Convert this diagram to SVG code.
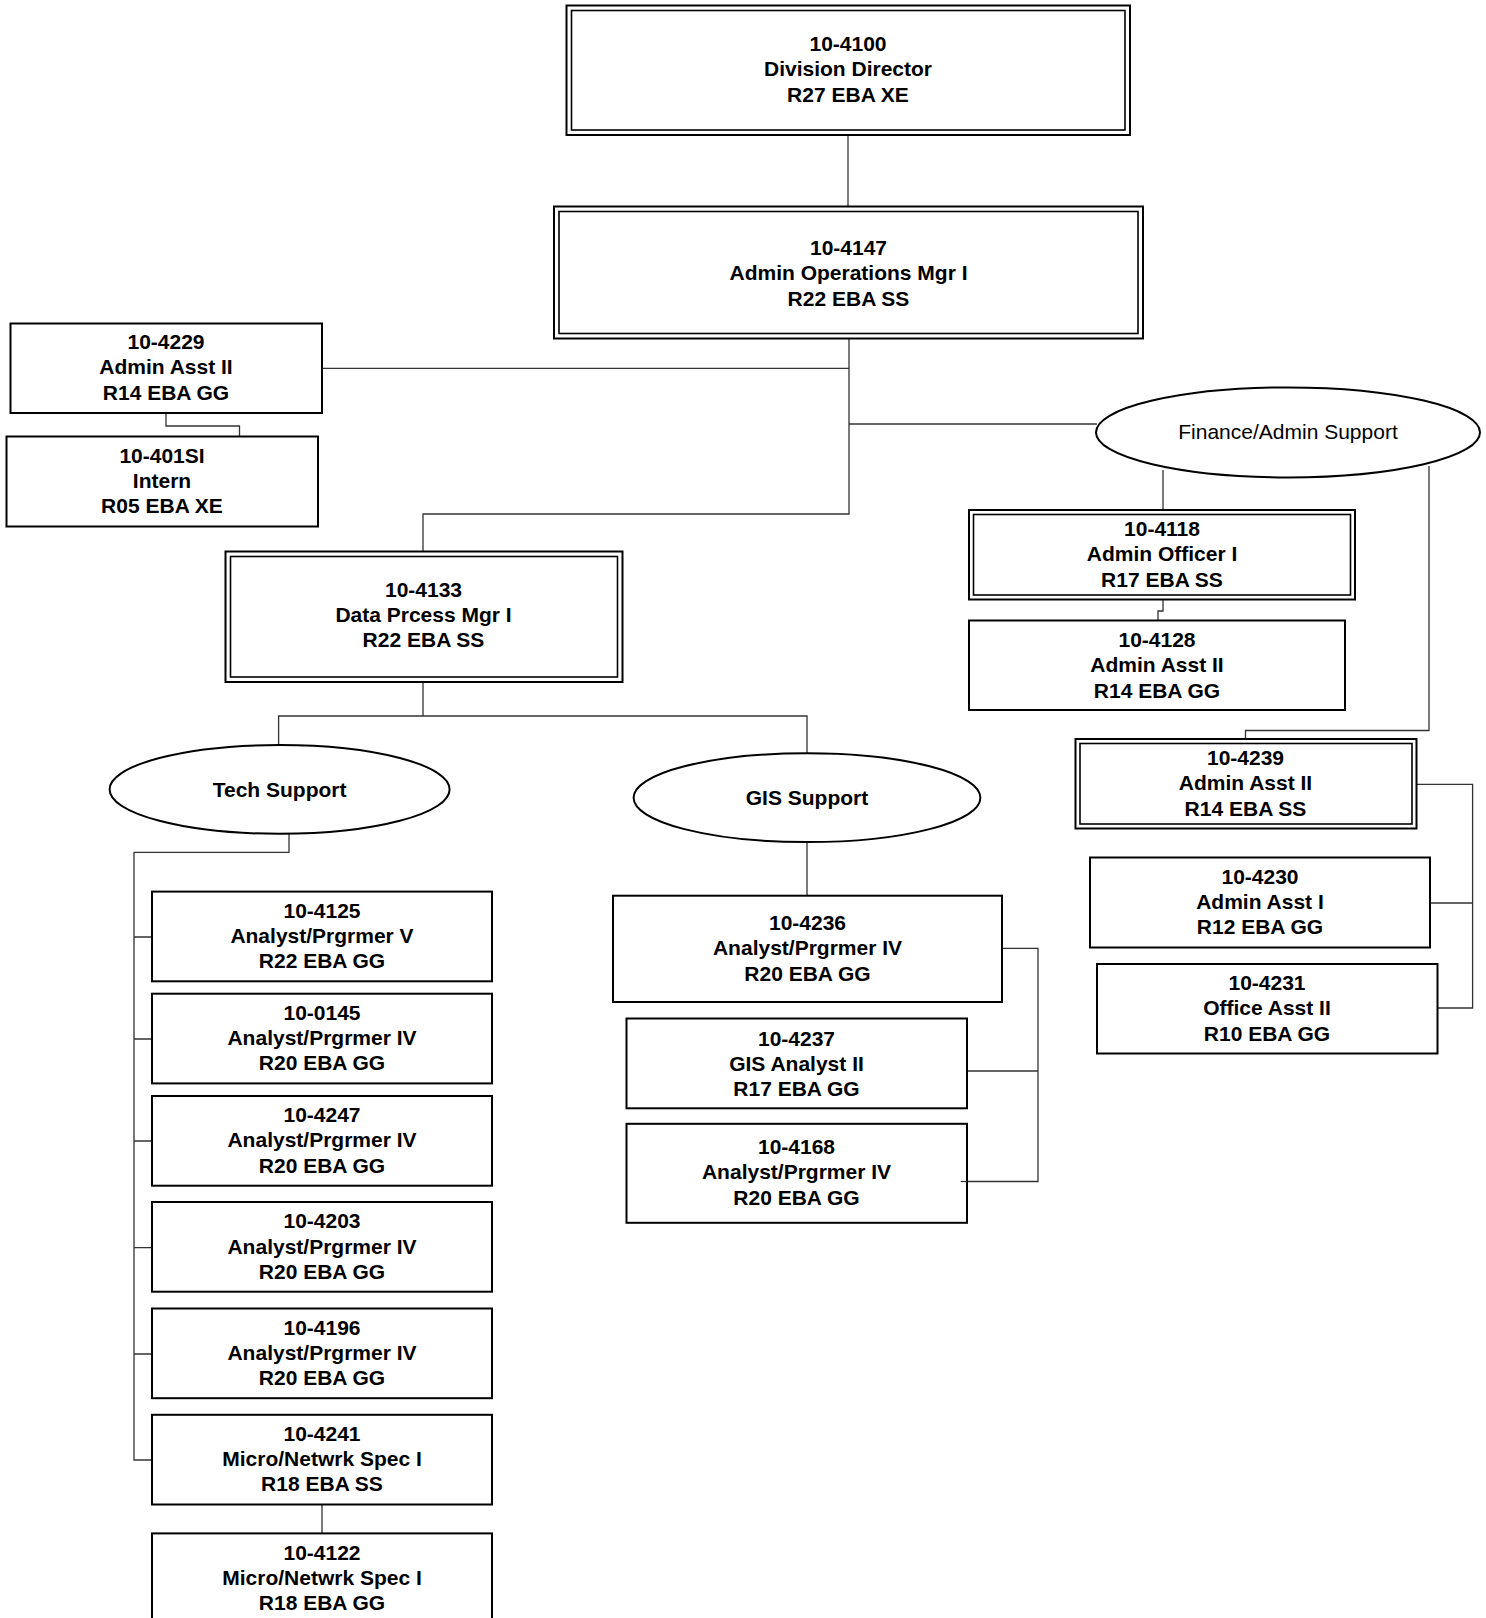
<svg xmlns="http://www.w3.org/2000/svg" width="1486" height="1618" viewBox="0 0 1486 1618">
<style>
.bx{fill:#fff;stroke:#000;stroke-width:2}
.in{fill:none;stroke:#000;stroke-width:1.6}
.el{fill:#fff;stroke:#000;stroke-width:2}
.t{font-family:"Liberation Sans",Arial,sans-serif;font-size:21px;font-weight:bold;text-anchor:middle;fill:#000}
.n{font-weight:normal}
.c{fill:none;stroke:#333;stroke-width:1.3}
</style>
<rect width="1486" height="1618" fill="#fff"/>
<g id="connectors">
<path class="c" d="M848,135 V206"/>
<path class="c" d="M849,338.5 V514 H423 V552"/>
<path class="c" d="M322,368.4 H849"/>
<path class="c" d="M849,424 H1097"/>
<path class="c" d="M166,413 V426 H239.5 V436.5"/>
<path class="c" d="M1163,470 V511"/>
<path class="c" d="M1163,599.5 V611 H1158 V620"/>
<path class="c" d="M1429,466 V730.5 H1245.5 V739"/>
<path class="c" d="M1416,784.3 H1472.6 V1008 H1437.5 M1430,903 H1472.6"/>
<path class="c" d="M423,682 V716 M278.6,745 V716 H807 V753"/>
<path class="c" d="M289,834 V852.4 H134 V1460 H151.7 M134,937 H151.7 M134,1039 H151.7 M134,1141 H151.7 M134,1247.6 H151.7 M134,1354 H151.7"/>
<path class="c" d="M322,1504.5 V1533.4"/>
<path class="c" d="M807,842 V895.7"/>
<path class="c" d="M1002,948.3 H1038 V1181.5 H960.7 M967,1071 H1038"/>
</g>
<g id="n4100">
<rect class="bx" x="566.5" y="5.5" width="563.5" height="129.5"/>
<rect class="in" x="571.5" y="10.5" width="553.5" height="119.5"/>
<text class="t" x="848" y="51"><tspan x="848">10-4100</tspan><tspan x="848" dy="25.3">Division Director</tspan><tspan x="848" dy="25.3">R27 EBA XE</tspan></text>
</g>
<g id="n4147">
<rect class="bx" x="554" y="206.5" width="589" height="132"/>
<rect class="in" x="559" y="211.5" width="579" height="122"/>
<text class="t" x="848.5" y="255"><tspan x="848.5">10-4147</tspan><tspan x="848.5" dy="25.3">Admin Operations Mgr I</tspan><tspan x="848.5" dy="25.3">R22 EBA SS</tspan></text>
</g>
<g id="n4229">
<rect class="bx" x="10.5" y="323.5" width="311.5" height="89.5"/>
<text class="t" x="166" y="349"><tspan x="166">10-4229</tspan><tspan x="166" dy="25.3">Admin Asst II</tspan><tspan x="166" dy="25.3">R14 EBA GG</tspan></text>
</g>
<g id="n401SI">
<rect class="bx" x="6.5" y="436.5" width="311.5" height="90"/>
<text class="t" x="162" y="462.5"><tspan x="162">10-401SI</tspan><tspan x="162" dy="25.3">Intern</tspan><tspan x="162" dy="25.3">R05 EBA XE</tspan></text>
</g>
<g id="finance">
<ellipse class="el" cx="1288" cy="432.4" rx="192" ry="45"/>
<text class="t n" x="1288" y="438.8">Finance/Admin Support</text>
</g>
<g id="n4118">
<rect class="bx" x="969" y="510" width="386" height="89.5"/>
<rect class="in" x="973.5" y="514.5" width="377" height="80.5"/>
<text class="t" x="1162" y="536"><tspan x="1162">10-4118</tspan><tspan x="1162" dy="25.3">Admin Officer I</tspan><tspan x="1162" dy="25.3">R17 EBA SS</tspan></text>
</g>
<g id="n4128">
<rect class="bx" x="969" y="620.5" width="376" height="89.5"/>
<text class="t" x="1157" y="647"><tspan x="1157">10-4128</tspan><tspan x="1157" dy="25.3">Admin Asst II</tspan><tspan x="1157" dy="25.3">R14 EBA GG</tspan></text>
</g>
<g id="n4239">
<rect class="bx" x="1075.5" y="739" width="341" height="89.5"/>
<rect class="in" x="1080" y="743.5" width="332" height="80.5"/>
<text class="t" x="1245.5" y="765"><tspan x="1245.5">10-4239</tspan><tspan x="1245.5" dy="25.3">Admin Asst II</tspan><tspan x="1245.5" dy="25.3">R14 EBA SS</tspan></text>
</g>
<g id="n4230">
<rect class="bx" x="1090" y="857.5" width="340" height="90"/>
<text class="t" x="1260" y="883.5"><tspan x="1260">10-4230</tspan><tspan x="1260" dy="25.3">Admin Asst I</tspan><tspan x="1260" dy="25.3">R12 EBA GG</tspan></text>
</g>
<g id="n4231">
<rect class="bx" x="1097" y="964" width="340.5" height="89.5"/>
<text class="t" x="1267" y="990"><tspan x="1267">10-4231</tspan><tspan x="1267" dy="25.3">Office Asst II</tspan><tspan x="1267" dy="25.3">R10 EBA GG</tspan></text>
</g>
<g id="n4133">
<rect class="bx" x="225.5" y="551.5" width="397" height="130.5"/>
<rect class="in" x="230.5" y="556.5" width="387" height="120.5"/>
<text class="t" x="423.5" y="596.7"><tspan x="423.5">10-4133</tspan><tspan x="423.5" dy="25.3">Data Prcess Mgr I</tspan><tspan x="423.5" dy="25.3">R22 EBA SS</tspan></text>
</g>
<g id="tech">
<ellipse class="el" cx="279.6" cy="789.4" rx="170" ry="44.4"/>
<text class="t" x="279.6" y="797">Tech Support</text>
</g>
<g id="gis">
<ellipse class="el" cx="807" cy="797.7" rx="173.4" ry="44.4"/>
<text class="t" x="807" y="805">GIS Support</text>
</g>
<g id="n4125">
<rect class="bx" x="152" y="891.6" width="340" height="89.7"/>
<text class="t" x="322" y="917.6"><tspan x="322">10-4125</tspan><tspan x="322" dy="25.3">Analyst/Prgrmer V</tspan><tspan x="322" dy="25.3">R22 EBA GG</tspan></text>
</g>
<g id="n0145">
<rect class="bx" x="152" y="993.7" width="340" height="89.7"/>
<text class="t" x="322" y="1019.8"><tspan x="322">10-0145</tspan><tspan x="322" dy="25.3">Analyst/Prgrmer IV</tspan><tspan x="322" dy="25.3">R20 EBA GG</tspan></text>
</g>
<g id="n4247">
<rect class="bx" x="152" y="1096" width="340" height="89.7"/>
<text class="t" x="322" y="1122"><tspan x="322">10-4247</tspan><tspan x="322" dy="25.3">Analyst/Prgrmer IV</tspan><tspan x="322" dy="25.3">R20 EBA GG</tspan></text>
</g>
<g id="n4203">
<rect class="bx" x="152" y="1202" width="340" height="89.7"/>
<text class="t" x="322" y="1228.2"><tspan x="322">10-4203</tspan><tspan x="322" dy="25.3">Analyst/Prgrmer IV</tspan><tspan x="322" dy="25.3">R20 EBA GG</tspan></text>
</g>
<g id="n4196">
<rect class="bx" x="152" y="1308.5" width="340" height="89.7"/>
<text class="t" x="322" y="1334.5"><tspan x="322">10-4196</tspan><tspan x="322" dy="25.3">Analyst/Prgrmer IV</tspan><tspan x="322" dy="25.3">R20 EBA GG</tspan></text>
</g>
<g id="n4241">
<rect class="bx" x="152" y="1414.8" width="340" height="89.7"/>
<text class="t" x="322" y="1440.8"><tspan x="322">10-4241</tspan><tspan x="322" dy="25.3">Micro/Netwrk Spec I</tspan><tspan x="322" dy="25.3">R18 EBA SS</tspan></text>
</g>
<g id="n4122">
<rect class="bx" x="152" y="1533.4" width="340" height="90"/>
<text class="t" x="322" y="1559.5"><tspan x="322">10-4122</tspan><tspan x="322" dy="25.3">Micro/Netwrk Spec I</tspan><tspan x="322" dy="25.3">R18 EBA GG</tspan></text>
</g>
<g id="n4236">
<rect class="bx" x="613" y="895.7" width="389" height="106.3"/>
<text class="t" x="807.5" y="930"><tspan x="807.5">10-4236</tspan><tspan x="807.5" dy="25.3">Analyst/Prgrmer IV</tspan><tspan x="807.5" dy="25.3">R20 EBA GG</tspan></text>
</g>
<g id="n4237">
<rect class="bx" x="626.5" y="1018.5" width="340.5" height="89.8"/>
<text class="t" x="796.5" y="1045.5"><tspan x="796.5">10-4237</tspan><tspan x="796.5" dy="25.3">GIS Analyst II</tspan><tspan x="796.5" dy="25.3">R17 EBA GG</tspan></text>
</g>
<g id="n4168">
<rect class="bx" x="626.5" y="1123.8" width="340.5" height="99"/>
<text class="t" x="796.5" y="1154"><tspan x="796.5">10-4168</tspan><tspan x="796.5" dy="25.3">Analyst/Prgrmer IV</tspan><tspan x="796.5" dy="25.3">R20 EBA GG</tspan></text>
</g>
<path class="c" d="M960.7,1181.5 H967"/>
</svg>
